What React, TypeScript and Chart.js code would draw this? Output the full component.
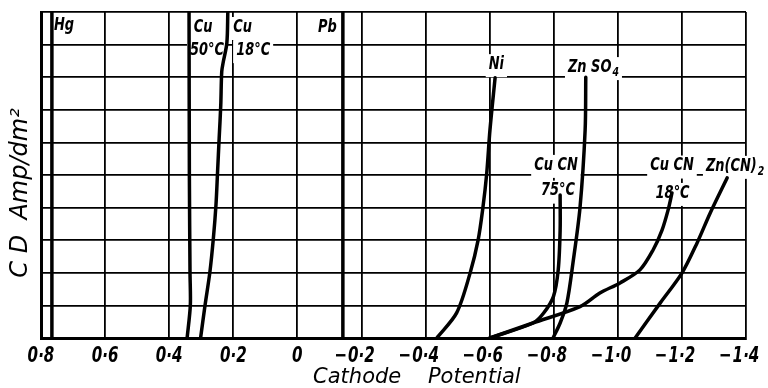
import React, { useEffect, useRef } from 'react';
import { Chart, registerables } from 'chart.js';
Chart.register(...registerables);

// Axis ticks
const xTickValues = [0.8, 0.6, 0.4, 0.2, 0, -0.2, -0.4, -0.6, -0.8, -1.0, -1.2, -1.4];
const xTickLabels = ['0·8', '0·6', '0·4', '0·2', '0', '−0·2', '−0·4', '−0·6', '−0·8', '−1·0', '−1·2', '−1·4'];

// Curves: cathode potential (V) vs current density (Amp/dm²)
const hgPotential = [0.766, 0.766];
const hgCD = [0, 10];
const cu50Potential = [0.344, 0.334, 0.335, 0.337, 0.338];
const cu50CD = [0, 1, 2, 5, 10];
const cu18Potential = [0.302, 0.288, 0.273, 0.262, 0.254, 0.249, 0.244, 0.239, 0.236, 0.231, 0.220, 0.217];
const cu18CD = [0, 1.01, 2.02, 3.07, 4.08, 5.1, 6.13, 7.15, 8.17, 8.48, 9.05, 10];
const pbPotential = [-0.142, -0.142];
const pbCD = [0, 10];
const niPotential = [-0.435, -0.497, -0.539, -0.564, -0.579, -0.591, -0.601, -0.617];
const niCD = [0, 0.77, 1.99, 3.0, 4.0, 5.06, 6.38, 7.98];
const znso4Potential = [-0.798, -0.82, -0.841, -0.86, -0.882, -0.898, -0.9];
const znso4CD = [0, 0.46, 1.07, 2.3, 4.0, 6.38, 8.0];
const cucn75Potential = [-0.601, -0.735, -0.768, -0.799, -0.814, -0.82, -0.82];
const cucn75CD = [0, 0.46, 0.76, 1.27, 2.09, 3.31, 4.39];
const cucn18Potential = [-0.601, -0.735, -0.882, -0.944, -1.007, -1.069, -1.11, -1.138, -1.157, -1.169];
const cucn18CD = [0, 0.46, 0.96, 1.38, 1.69, 2.09, 2.7, 3.31, 3.93, 4.45];
const zncn2Potential = [-1.054, -1.132, -1.2, -1.247, -1.288, -1.341];
const zncn2CD = [0, 1.07, 1.99, 2.91, 3.83, 4.91];

// Curve labels
const labelTexts = ['Hg', 'Cu', '50°C', 'Cu', '18°C', 'Pb', 'Ni', 'Zn SO', 'Cu CN', '75°C', 'Cu CN', '18°C', 'Zn(CN)'];
const labelSubs = ['', '', '', '', '', '', '', '4', '', '', '', '', '2'];
const labelPotential = [0.728, 0.294, 0.282, 0.171, 0.138, -0.094, -0.621, -0.924, -0.807, -0.813, -1.169, -1.171, -1.366];
const labelCD = [9.6, 9.54, 8.83, 9.54, 8.83, 9.54, 8.4, 8.31, 5.31, 4.52, 5.29, 4.45, 5.28];

const xTitle = 'Cathode    Potential';
const yTitle = 'C D  Amp/dm²';

const SX = 0.72; // horizontal compression for hand-lettered text
const LABEL_FONT = "italic bold 18px 'DejaVu Sans', sans-serif";
const SUB_FONT = "italic bold 13px 'DejaVu Sans', sans-serif";
const TICK_FONT = "italic bold 21px 'DejaVu Sans', sans-serif";
const TITLE_FONT = "italic 21px 'DejaVu Sans', sans-serif";
const YTITLE_FONT = "italic 24px 'DejaVu Sans', sans-serif";

const series = [
  [hgPotential, hgCD, 3.5],
  [cu50Potential, cu50CD, 3.5],
  [cu18Potential, cu18CD, 3.5],
  [pbPotential, pbCD, 3.5],
  [niPotential, niCD, 3.5],
  [znso4Potential, znso4CD, 3.5],
  [cucn75Potential, cucn75CD, 3.5],
  [cucn18Potential, cucn18CD, 3.5],
  [zncn2Potential, zncn2CD, 3.5],
] as [number[], number[], number][];

function measureLabel(ctx: CanvasRenderingContext2D, i: number) {
  ctx.font = LABEL_FONT;
  const w1 = ctx.measureText(labelTexts[i]).width * SX;
  ctx.font = SUB_FONT;
  const w2 = labelSubs[i] ? ctx.measureText(labelSubs[i]).width * SX + 1 : 0;
  return { w1, w2, w: w1 + w2 };
}

function drawScaled(ctx: CanvasRenderingContext2D, text: string, x: number, y: number) {
  ctx.save();
  ctx.translate(x, y);
  ctx.scale(SX, 1);
  ctx.fillText(text, 0, 0);
  ctx.restore();
}

const annotPlugin = {
  id: 'annot',
  beforeDatasetsDraw(chart: any) {
    const ctx = chart.ctx as CanvasRenderingContext2D;
    const xs = chart.scales.x;
    const ys = chart.scales.y;
    ctx.save();
    ctx.fillStyle = '#fff';
    for (let i = 0; i < labelTexts.length; i++) {
      const cx = xs.getPixelForValue(labelPotential[i]);
      const cy = ys.getPixelForValue(labelCD[i]);
      const { w } = measureLabel(ctx, i);
      ctx.fillRect(cx - w / 2 - 3, cy - 10, w + 6, 23);
    }
    ctx.restore();
  },
  afterDatasetsDraw(chart: any) {
    const ctx = chart.ctx as CanvasRenderingContext2D;
    const xs = chart.scales.x;
    const ys = chart.scales.y;
    const area = chart.chartArea;
    ctx.save();
    ctx.fillStyle = '#000';
    ctx.textBaseline = 'middle';
    ctx.textAlign = 'left';
    for (let i = 0; i < labelTexts.length; i++) {
      const cx = xs.getPixelForValue(labelPotential[i]);
      const cy = ys.getPixelForValue(labelCD[i]);
      const { w1, w } = measureLabel(ctx, i);
      const left = cx - w / 2;
      ctx.font = LABEL_FONT;
      drawScaled(ctx, labelTexts[i], left, cy);
      if (labelSubs[i]) {
        ctx.font = SUB_FONT;
        drawScaled(ctx, labelSubs[i], left + w1 + 1, cy + 6);
      }
    }
    // tick labels: numeric part centred on the grid line, minus hanging left
    ctx.font = TICK_FONT;
    ctx.textBaseline = 'alphabetic';
    xs.ticks.forEach((t: any, i: number) => {
      const px = xs.getPixelForValue(t.value);
      const lbl = xTickLabels[i];
      const neg = lbl.startsWith('−');
      const num = neg ? lbl.slice(1) : lbl;
      const wn = ctx.measureText(num).width * SX;
      const y = area.bottom + 24;
      drawScaled(ctx, num, px - wn / 2, y);
      if (neg) {
        const wm = ctx.measureText('−').width * SX;
        drawScaled(ctx, '−', px - wn / 2 - wm - 1, y);
      }
    });
    // axis titles
    ctx.font = TITLE_FONT;
    ctx.textAlign = 'center';
    ctx.fillText(xTitle, xs.getPixelForValue(-0.373), area.bottom + 45);
    ctx.save();
    ctx.translate(area.left - 20, ys.getPixelForValue(4.45));
    ctx.rotate(-Math.PI / 2);
    ctx.textBaseline = 'middle';
    ctx.font = YTITLE_FONT;
    ctx.fillText(yTitle, 0, 0);
    ctx.restore();
    ctx.restore();
  },
};

export default function App() {
  const ref = useRef<HTMLCanvasElement>(null);
  useEffect(() => {
    if (!ref.current) return;
    const chart = new Chart(ref.current, {
      type: 'line',
      data: {
        datasets: series.map(([px, cd, lw]) => ({
          data: px.map((v, i) => ({ x: v, y: cd[i] })),
          borderColor: '#000',
          borderWidth: lw,
          pointRadius: 0,
          tension: 0.3,
          fill: false,
          borderCapStyle: 'round' as const,
        })),
      },
      options: {
        responsive: false,
        animation: false,
        events: [],
        layout: { padding: { left: 0, right: 22, top: 12, bottom: 0 } },
        plugins: { legend: { display: false }, tooltip: { enabled: false } },
        scales: {
          x: {
            type: 'linear',
            reverse: true,
            min: -1.4,
            max: 0.8,
            afterFit: (s: any) => { s.height = 50; s.paddingLeft = 0; s.paddingRight = 0; },
            afterBuildTicks: (s: any) => { s.ticks = xTickValues.map((v) => ({ value: v })); },
            ticks: { display: false },
            grid: { color: '#000', lineWidth: 1.8, drawTicks: false },
            border: { color: '#000', width: 3 },
          },
          y: {
            type: 'linear',
            min: 0,
            max: 10,
            afterFit: (s: any) => { s.width = 41; s.paddingTop = 0; s.paddingBottom = 0; },
            ticks: { display: false, stepSize: 1 },
            grid: { color: '#000', lineWidth: 1.8, drawTicks: false },
            border: { color: '#000', width: 3 },
          },
        },
      },
      plugins: [annotPlugin],
    });
    return () => chart.destroy();
  }, []);
  return (
    <div style={{ position: 'absolute', left: 0, top: 0, width: 768, height: 388, background: '#fff' }}>
      <canvas ref={ref} width={768} height={388} style={{ display: 'block' }} />
    </div>
  );
}
